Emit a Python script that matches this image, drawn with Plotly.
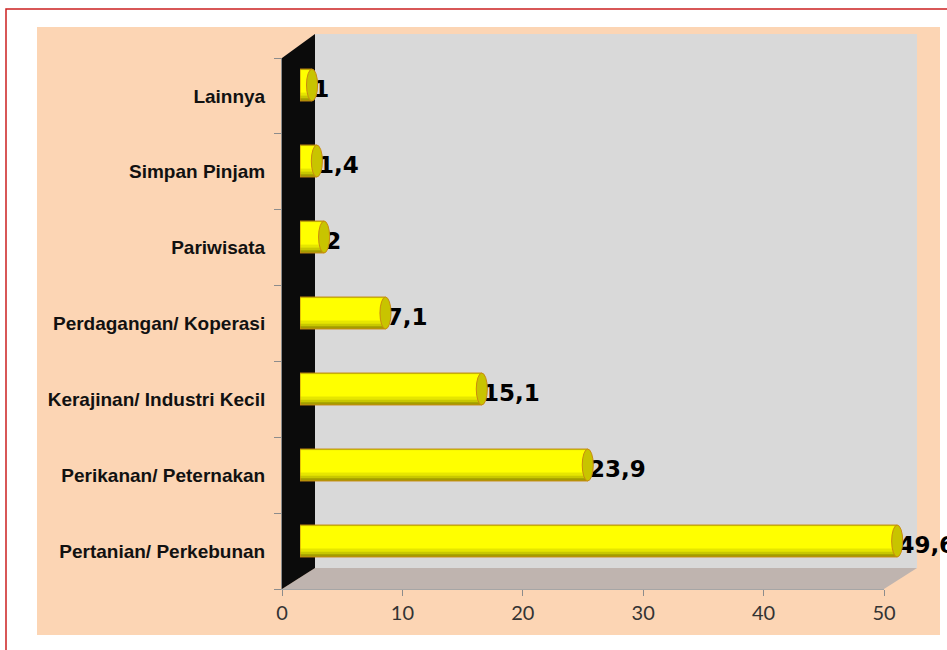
import plotly.graph_objects as go

# ---- data ----
categories = ["Pertanian/ Perkebunan", "Perikanan/ Peternakan", "Kerajinan/ Industri Kecil",
              "Perdagangan/ Koperasi", "Pariwisata", "Simpan Pinjam", "Lainnya"]
values = [49.6, 23.9, 15.1, 7.1, 2, 1.4, 1]
x_tick_vals = [0, 10, 20, 30, 40, 50]

W, H = 947, 650
def px(x):
    return x / W
def py(y):
    return 1 - y / H

idx = list(range(len(categories)))
labels = [f"{v:g}".replace(".", ",") for v in values]
CAP = 0.46   # half width of the cylinder end (x units)
HALF = 0.21  # half height of the cylinder (y units)

fig = go.Figure()

# cylinder body built from layered bars (shading)
layers = [
    ("#A39C00", -0.21, 0.42, dict(color="#C98A10", width=1)),
    ("#C8C800", -0.175, 0.375, dict(width=0)),
    ("#E6E600", -0.14, 0.34, dict(width=0)),
    ("#FFFF00", -0.10, 0.295, dict(width=0)),
]
for col, off, wid, line in layers:
    fig.add_trace(go.Bar(
        x=values, y=idx, orientation="h", width=wid, offset=off,
        marker=dict(color=col, line=line), hoverinfo="skip", showlegend=False,
        xaxis="x", yaxis="y"))

# data labels
fig.add_trace(go.Scatter(
    x=[v + 0.1 for v in values], y=[i - 0.08 for i in idx], mode="text", text=labels,
    textposition="middle right",
    textfont=dict(family="DejaVu Sans", size=23, color="#000000", weight="bold"),
    cliponaxis=False, hoverinfo="skip", showlegend=False, xaxis="x", yaxis="y"))

# dummy trace to carry the front category axis
fig.add_trace(go.Scatter(
    x=[0] * len(categories), y=categories, mode="markers", marker=dict(opacity=0),
    hoverinfo="skip", showlegend=False, xaxis="x2", yaxis="y2"))

shapes = []
# outer red border
shapes.append(dict(type="rect", xref="paper", yref="paper", x0=px(6), y0=py(9), x1=1.02, y1=-0.02,
                   line=dict(color="#CC2020", width=1.5), fillcolor="rgba(0,0,0,0)", layer="below"))
# peach chart area
shapes.append(dict(type="rect", xref="paper", yref="paper", x0=px(37), y0=py(27), x1=px(940), y1=py(635),
                   line=dict(width=0), fillcolor="#FCD5B4", layer="below"))
# back wall
shapes.append(dict(type="rect", xref="paper", yref="paper", x0=px(315), y0=py(34), x1=px(917), y1=py(568),
                   line=dict(width=0), fillcolor="#D9D9D9", layer="below"))
# floor
shapes.append(dict(type="path", xref="paper", yref="paper",
                   path=f"M {px(282)} {py(589)} L {px(315)} {py(568)} L {px(917)} {py(568)} L {px(884)} {py(589)} Z",
                   line=dict(width=0), fillcolor="#BFB4AF", layer="below"))
# side wall
shapes.append(dict(type="path", xref="paper", yref="paper",
                   path=f"M {px(282)} {py(58)} L {px(315)} {py(34)} L {px(315)} {py(568)} L {px(282)} {py(589)} Z",
                   line=dict(width=0), fillcolor="#0B0B0B", layer="below"))

# cylinder ends
k = 0.5523
for i, v in zip(idx, values):
    a, h = CAP, HALF
    left_half = (f"M 0 {i + h} C {-a * k} {i + h} {-a} {i + h * k} {-a} {i} "
                 f"C {-a} {i - h * k} {-a * k} {i - h} 0 {i - h} Z")
    shapes.append(dict(type="path", xref="x", yref="y", path=left_half,
                       fillcolor="#F4F400", line=dict(color="#C98A10", width=1), layer="above"))
    shapes.append(dict(type="circle", xref="x", yref="y", x0=v - a, x1=v + a, y0=i - h, y1=i + h,
                       fillcolor="#C8C400", line=dict(color="#C98A10", width=1), layer="above"))

# bar axis: 0 at x=300px, 12.04 px per unit; extended range so the last label is kept
X_MAX = 53
fig.update_layout(
    width=W, height=H,
    margin=dict(l=0, r=0, t=0, b=0, autoexpand=False),
    paper_bgcolor="#FFFFFF", plot_bgcolor="rgba(0,0,0,0)",
    barmode="overlay", showlegend=False,
    shapes=shapes,
    xaxis=dict(domain=[px(300), min(1.0, px(300 + X_MAX * 602 / 50))], range=[0, X_MAX], visible=False,
               anchor="y", automargin=False),
    yaxis=dict(domain=[py(579), py(47)], range=[-0.5, 6.5], visible=False, anchor="x", automargin=False),
    xaxis2=dict(domain=[px(282), px(884)], range=[0, 50], anchor="y2", automargin=False,
                tickvals=x_tick_vals, ticks="outside", ticklen=6, tickcolor="#8C8C8C",
                showline=True, linecolor="#A6A6A6", showgrid=False, zeroline=False,
                tickfont=dict(family="Lato", size=20, color="#333333")),
    yaxis2=dict(domain=[py(589), py(58)], type="category", categoryorder="array",
                categoryarray=categories, range=[-0.5, 6.5], anchor="x2", automargin=False,
                tickson="boundaries", ticks="outside", ticklen=7, tickcolor="#8C8C8C",
                showline=True, linecolor="#8C8C8C", showgrid=False, zeroline=False,
                ticklabelstandoff=12,
                tickfont=dict(family="Liberation Sans", size=19, color="#111111", weight="bold")),
)

fig.write_html("out.html")
